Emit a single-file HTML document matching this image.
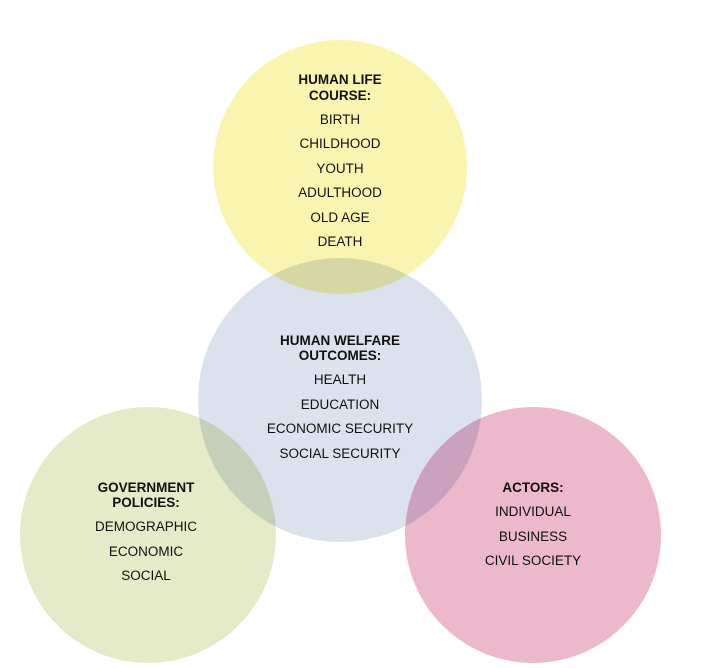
<!DOCTYPE html>
<html><head><meta charset="utf-8"><style>
html,body{margin:0;padding:0;background:#fff;width:716px;height:668px;overflow:hidden}
svg text{font-family:"Liberation Sans",sans-serif;font-size:13.5px;fill:#111;text-anchor:middle}
.b{font-weight:bold}
circle{mix-blend-mode:multiply}
</style></head><body>
<svg width="716" height="668" viewBox="0 0 716 668" style="isolation:isolate">
<circle cx="340" cy="167" r="127" fill="#faf4b1"/>
<circle cx="340" cy="400" r="142" fill="#dce1ee"/>
<circle cx="148" cy="535" r="128" fill="#e5ebc8"/>
<circle cx="533" cy="535" r="128" fill="#ecb8cc"/>
<g>
<text x="340" y="84" class="b">HUMAN LIFE</text>
<text x="340" y="100" class="b">COURSE:</text>
<text x="340" y="124">BIRTH</text>
<text x="340" y="148">CHILDHOOD</text>
<text x="340" y="173">YOUTH</text>
<text x="340" y="197">ADULTHOOD</text>
<text x="340" y="222">OLD AGE</text>
<text x="340" y="246">DEATH</text>

<text x="340" y="345" class="b">HUMAN WELFARE</text>
<text x="340" y="360" class="b">OUTCOMES:</text>
<text x="340" y="384">HEALTH</text>
<text x="340" y="409">EDUCATION</text>
<text x="340" y="433">ECONOMIC SECURITY</text>
<text x="340" y="458">SOCIAL SECURITY</text>

<text x="146" y="492" class="b">GOVERNMENT</text>
<text x="146" y="507" class="b">POLICIES:</text>
<text x="146" y="531">DEMOGRAPHIC</text>
<text x="146" y="556">ECONOMIC</text>
<text x="146" y="580">SOCIAL</text>

<text x="533" y="492" class="b">ACTORS:</text>
<text x="533" y="516">INDIVIDUAL</text>
<text x="533" y="541">BUSINESS</text>
<text x="533" y="565">CIVIL SOCIETY</text>
</g>
</svg>
</body></html>
